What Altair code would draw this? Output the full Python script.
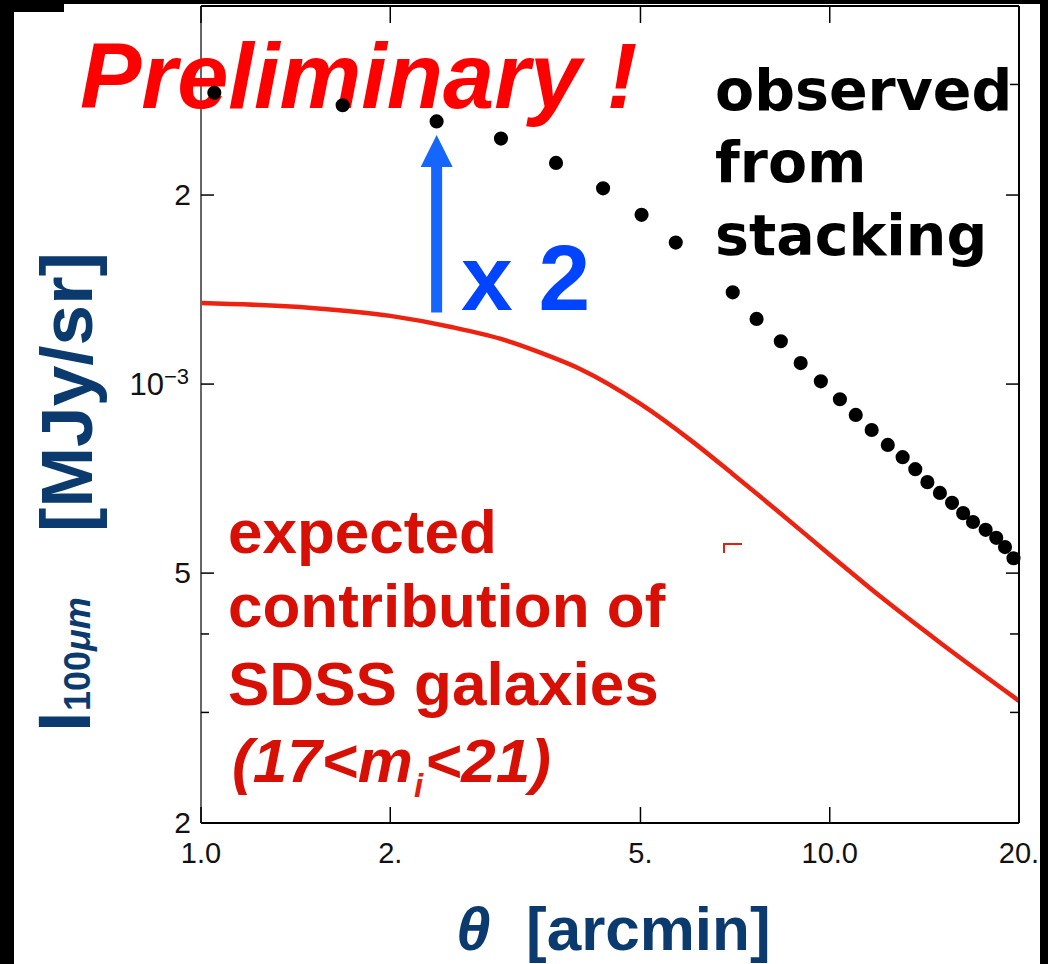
import altair as alt
import pandas as pd

# Observed stacked 100-micron profile (black points)
theta_obs = [1.05, 1.68, 2.37, 3.00, 3.67, 4.36, 5.02, 5.69, 7.01, 7.65,
             8.36, 8.99, 9.68, 10.38, 11.0, 11.66, 12.37, 13.06, 13.68, 14.30,
             14.97, 15.65, 16.30, 16.90, 17.70, 18.40, 19.00, 19.60]
intensity_obs = [2.91e-3, 2.78e-3, 2.62e-3, 2.46e-3, 2.25e-3, 2.05e-3, 1.86e-3, 1.68e-3,
                 1.40e-3, 1.27e-3, 1.17e-3, 1.08e-3, 1.01e-3, 9.46e-4, 8.93e-4, 8.45e-4,
                 8.00e-4, 7.65e-4, 7.32e-4, 6.98e-4, 6.71e-4, 6.47e-4, 6.23e-4, 6.03e-4,
                 5.86e-4, 5.69e-4, 5.50e-4, 5.28e-4]

# Expected contribution of SDSS galaxies (red curve)
theta_model = [1.0, 1.5, 2.0, 2.5, 3.0, 3.5, 4.0, 5.0, 6.0, 7.0, 8.0, 10.0, 12.0, 15.0, 20.0]
intensity_model = [1.346e-3, 1.322e-3, 1.284e-3, 1.233e-3, 1.180e-3, 1.118e-3, 1.058e-3,
                   9.30e-4, 8.15e-4, 7.20e-4, 6.45e-4, 5.35e-4, 4.60e-4, 3.87e-4, 3.13e-4]

# Axis ticks and labels
x_tick_values = [1, 2, 5, 10, 20]
x_tick_labels = ["1.0", "2.", "5.", "10.0", "20."]
y_label_values = [2e-4, 5e-4, 2e-3]
y_label_text = ["2", "5", "2"]
y_decade_value = [1e-3]
y_major_ticks = [2e-4, 5e-4, 1e-3, 2e-3]
y_minor_ticks = [3e-4, 4e-4, 3e-3]

# Arrow showing the factor between model and data
arrow_theta = [2.37]
arrow_from = [1.30e-3]
arrow_to = [2.35e-3]

W, H = 818, 817
LEFT, TOP = 201, 6
PAGE_W, PAGE_H = 1048, 964

x_scale = alt.Scale(type="log", domain=[1, 20])
y_scale = alt.Scale(type="log", domain=[2e-4, 4e-3])

NAVY = "#0B3A6E"
RED_TEXT = "#D80F05"
FONT = "Liberation Sans"

one = pd.DataFrame({"k": [0]})


def X(field):
    return alt.X(field, type="quantitative", scale=x_scale, axis=None)


def Y(field):
    return alt.Y(field, type="quantitative", scale=y_scale, axis=None)


def px(x):
    return alt.value(x - LEFT)


def py(y):
    return alt.value(y - TOP)


def note(text, x, y, size, color, weight="bold", style="normal", align="left",
         angle=0, font=FONT):
    return alt.Chart(one).mark_text(
        text=text, align=align, baseline="alphabetic", fontSize=size,
        fontWeight=weight, fontStyle=style, color=color, font=font, angle=angle
    ).encode(x=px(x), y=py(y))


def box(x0, x1, y0, y1, color="black"):
    return alt.Chart(one).mark_rect(color=color, clip=False).encode(
        x=px(x0), x2=px(x1), y=py(y0), y2=py(y1))


def line_px(x0, x1, y0, y1, color="black", width=2):
    return alt.Chart(one).mark_rule(color=color, strokeWidth=width).encode(
        x=px(x0), x2=px(x1), y=py(y0), y2=py(y1))


obs = pd.DataFrame({"theta": theta_obs, "I": intensity_obs})
model = pd.DataFrame({"theta": theta_model, "I": intensity_model})

# plot frame
frame = [
    line_px(201, 201, 6, 823, color="#666666", width=2),
    line_px(201, 1019, 6, 6),
    line_px(1019, 1019, 6, 823),
    line_px(201, 1019, 823, 823),
]

xt = pd.DataFrame({"v": x_tick_values, "lab": x_tick_labels})
x_ticks_bottom = alt.Chart(xt).mark_rule(color="black", strokeWidth=1.5).encode(
    x=X("v"), y=alt.value(H), y2=alt.value(H - 16))
x_ticks_top = alt.Chart(xt).mark_rule(color="black", strokeWidth=1.5).encode(
    x=X("v"), y=alt.value(0), y2=alt.value(17))
x_labels = alt.Chart(xt).mark_text(
    font=FONT, fontSize=29, color="#111111", baseline="alphabetic", align="center"
).encode(x=X("v"), y=alt.value(863 - TOP), text="lab:N")

ymaj = pd.DataFrame({"v": y_major_ticks})
ymin = pd.DataFrame({"v": y_minor_ticks})
y_ticks = [
    alt.Chart(ymaj).mark_rule(color="black", strokeWidth=1.5).encode(
        y=Y("v"), x=alt.value(0), x2=alt.value(13)),
    alt.Chart(ymaj).mark_rule(color="black", strokeWidth=1.5).encode(
        y=Y("v"), x=alt.value(W), x2=alt.value(W - 13)),
    alt.Chart(ymin).mark_rule(color="black", strokeWidth=1.5).encode(
        y=Y("v"), x=alt.value(0), x2=alt.value(8)),
    alt.Chart(ymin).mark_rule(color="black", strokeWidth=1.5).encode(
        y=Y("v"), x=alt.value(W), x2=alt.value(W - 9)),
]
yl = pd.DataFrame({"v": y_label_values, "lab": y_label_text})
y_labels = alt.Chart(yl).mark_text(
    font=FONT, fontSize=30, color="#111111", baseline="alphabetic", align="right", dy=10
).encode(y=Y("v"), x=px(191), text="lab:N")
yd = pd.DataFrame({"v": y_decade_value})
y_decade = alt.Chart(yd).mark_text(
    font=FONT, fontSize=31, color="#111111", baseline="alphabetic", align="right",
    dy=11, text="10"
).encode(y=Y("v"), x=px(164))
y_decade_exp = alt.Chart(yd).mark_text(
    font=FONT, fontSize=22, color="#111111", baseline="alphabetic", align="left",
    dy=0, text="\u22123"
).encode(y=Y("v"), x=px(164))

curve = alt.Chart(model).mark_line(
    color="#EE2211", strokeWidth=4.5, interpolate="monotone"
).encode(x=X("theta"), y=Y("I"))

points = alt.Chart(obs).mark_circle(color="black", opacity=1, size=200).encode(
    x=X("theta"), y=Y("I"))

arr = pd.DataFrame({"theta": arrow_theta, "a": arrow_from, "b": arrow_to})
arrow_shaft = alt.Chart(arr).mark_rule(color="#1466FF", strokeWidth=11).encode(
    x=X("theta"), y=Y("a"), y2=alt.Y2("b"))
arrow_head = alt.Chart(arr).mark_point(
    shape="M0,-1L1,1L-1,1Z", filled=True, color="#1466FF", opacity=1, size=1024
).encode(x=X("theta"), y=Y("b"))

texts = [
    note("Preliminary !", 80, 108, 92, "#FF0000", style="italic"),
    note("observed", 715, 110, 57, "black", font="DejaVu Sans"),
    note("from", 715, 182, 57, "black", font="DejaVu Sans"),
    note("stacking", 715, 255, 57, "black", font="DejaVu Sans"),
    note("x 2", 461, 310, 93, "#0044FF"),
    note("expected", 228, 553, 62, RED_TEXT),
    note("contribution of", 228, 627, 62, RED_TEXT),
    note("SDSS galaxies", 228, 705, 62, RED_TEXT),
    note("(17<m", 232, 782, 62, RED_TEXT, style="italic"),
    note("i", 414, 797, 33, "#E02010", style="italic"),
    note("<21)", 425, 782, 62, RED_TEXT, style="italic"),
    # axis titles
    note("\u03b8", 456, 950, 62, NAVY, style="italic"),
    note("[arcmin]", 526, 950, 62, NAVY),
    note("I", 90, 732, 74, NAVY, angle=270),
    note("100", 90, 711, 36, NAVY, angle=270),
    note("\u03bcm", 90, 651, 36, NAVY, style="italic", angle=270),
    note("[MJy/sr]", 92, 532, 73, NAVY, angle=270),
]

stray = [
    line_px(723, 742, 544, 544, color="#E02010", width=2),
    line_px(724, 724, 544, 553, color="#E02010", width=2),
]

borders = [
    box(0, 14, 0, PAGE_H),
    box(0, PAGE_W, 0, 4),
    box(0, 64, 0, 12),
    box(1040, PAGE_W, 0, PAGE_H),
]

chart = alt.layer(
    curve, *frame, x_ticks_bottom, x_ticks_top, x_labels, *y_ticks, y_labels,
    y_decade, y_decade_exp, arrow_shaft, arrow_head, *stray, *texts, points, *borders
).properties(
    width=W, height=H,
    padding={"left": LEFT, "top": TOP, "right": PAGE_W - LEFT - W, "bottom": PAGE_H - TOP - H},
    autosize="none",
    background="white",
).configure_view(stroke=None)

chart.save("out.html", embed_options={"renderer": "svg", "actions": False})
